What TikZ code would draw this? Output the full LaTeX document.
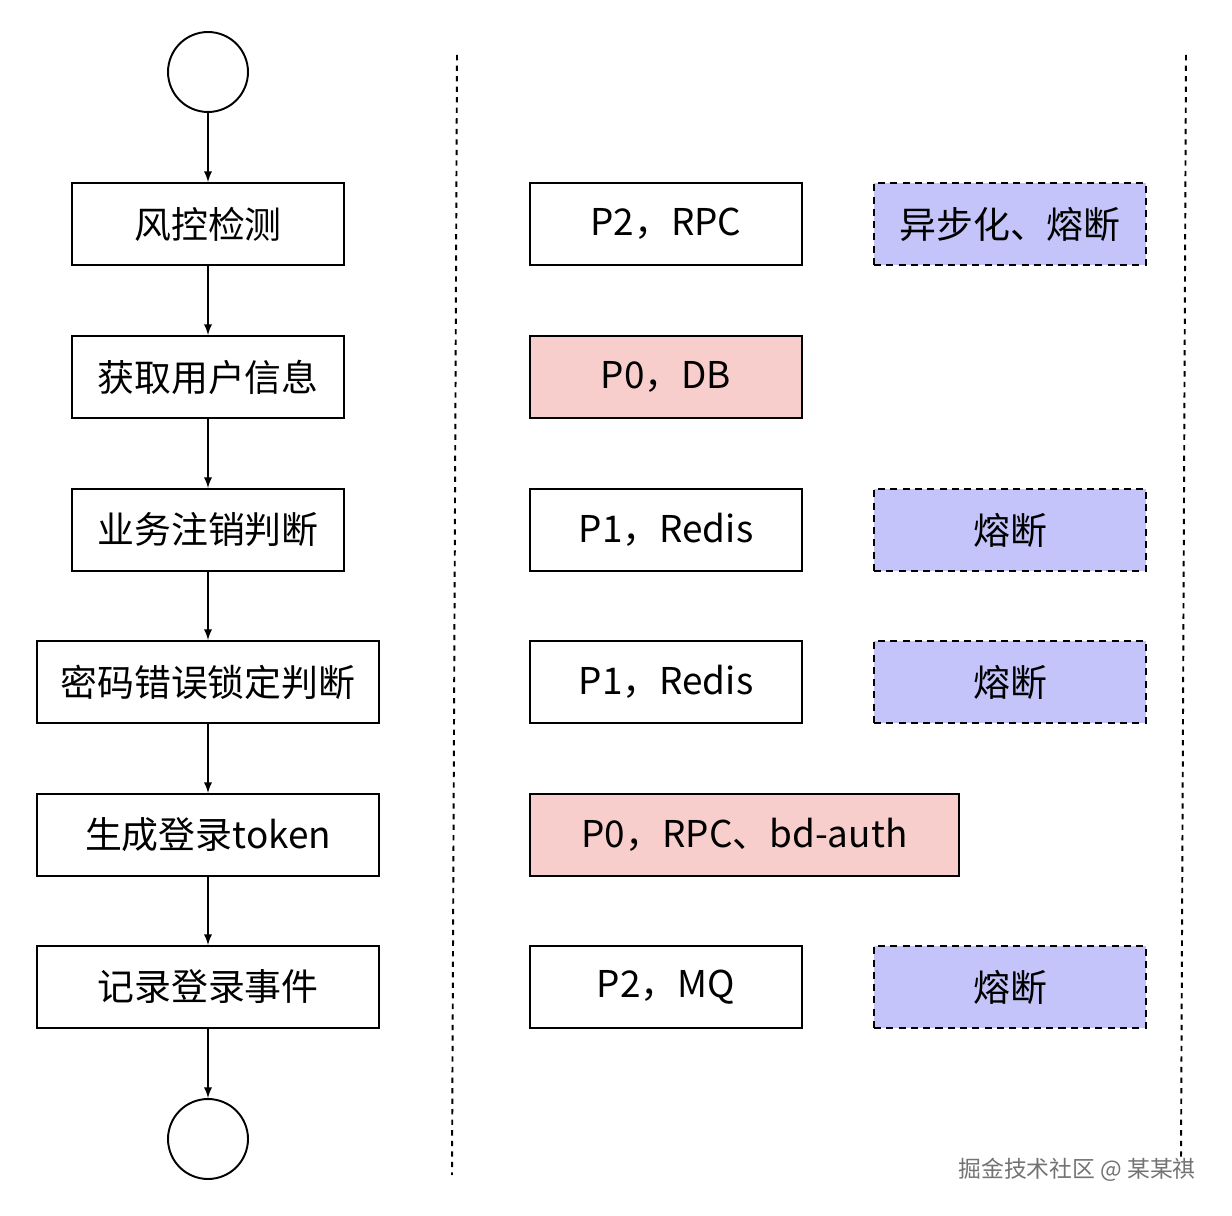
\documentclass[tikz,border=0pt]{standalone}
\usepackage{fontspec}
\setmainfont{Noto Sans CJK SC}
\definecolor{pinkf}{HTML}{F8CECC}
\definecolor{purpf}{HTML}{C4C4FA}
\begin{document}
\begin{tikzpicture}[x=0.02cm,y=-0.02cm,
  box/.style={draw,line width=1.1pt,font=\fontsize{21}{24}\selectfont},
  mark2/.style={box,dashed,dash pattern=on 4pt off 3pt,fill=purpf},
  arr/.style={-latex,line width=1.1pt}]
\useasboundingbox (0,0) rectangle (1232,1216);
\node[draw,circle,line width=1.1pt,minimum size=1.6cm] (s) at (208,72) {};
\node[draw,circle,line width=1.1pt,minimum size=1.6cm] (e) at (208,1139) {};
\newcommand{\bx}[6]{\draw[#1] (#2,#3) rectangle (#4,#5); \node[font=\fontsize{21}{24}\selectfont] at ({(#2+#4)/2},{(#3+#5)/2}) {#6};}
\node[box,minimum width=272*0.02cm,minimum height=82*0.02cm] (a1) at (208,224) {风控检测};
\node[box,minimum width=272*0.02cm,minimum height=82*0.02cm] (a2) at (208,377) {获取用户信息};
\node[box,minimum width=272*0.02cm,minimum height=82*0.02cm] (a3) at (208,530) {业务注销判断};
\node[box,minimum width=342*0.02cm,minimum height=82*0.02cm] (a4) at (208,682) {密码错误锁定判断};
\node[box,minimum width=342*0.02cm,minimum height=82*0.02cm] (a5) at (208,835) {生成登录token};
\node[box,minimum width=342*0.02cm,minimum height=82*0.02cm] (a6) at (208,987) {记录登录事件};
\draw[arr] (s) -- (a1); \draw[arr] (a1) -- (a2); \draw[arr] (a2) -- (a3);
\draw[arr] (a3) -- (a4); \draw[arr] (a4) -- (a5); \draw[arr] (a5) -- (a6); \draw[arr] (a6) -- (e);
\draw[dashed,line width=1.1pt] (457,55) -- (452,1175);
\draw[dashed,line width=1.1pt] (1186,55) -- (1181,1160);
\node[box,minimum width=272*0.02cm,minimum height=82*0.02cm] (b1) at (666,224) {P2，RPC};
\node[box,fill=pinkf,minimum width=272*0.02cm,minimum height=82*0.02cm] (b2) at (666,377) {P0，DB};
\node[box,minimum width=272*0.02cm,minimum height=82*0.02cm] (b3) at (666,530) {P1，Redis};
\node[box,minimum width=272*0.02cm,minimum height=82*0.02cm] (b4) at (666,682) {P1，Redis};
\node[box,fill=pinkf,minimum width=429*0.02cm,minimum height=82*0.02cm] (b5) at (744.5,835) {P0，RPC、bd-auth};
\node[box,minimum width=272*0.02cm,minimum height=82*0.02cm] (b6) at (666,987) {P2，MQ};
\node[mark2,minimum width=272*0.02cm,minimum height=82*0.02cm] (c1) at (1010,224) {异步化、熔断};
\node[mark2,minimum width=272*0.02cm,minimum height=82*0.02cm] (c3) at (1010,530) {熔断};
\node[mark2,minimum width=272*0.02cm,minimum height=82*0.02cm] (c4) at (1010,682) {熔断};
\node[mark2,minimum width=272*0.02cm,minimum height=82*0.02cm] (c6) at (1010,987) {熔断};
\node[text=black!55,font=\fontsize{13}{15}\selectfont,anchor=east] (w) at (1202,1170) {掘金技术社区 @ 某某祺};
\end{tikzpicture}
\end{document}
